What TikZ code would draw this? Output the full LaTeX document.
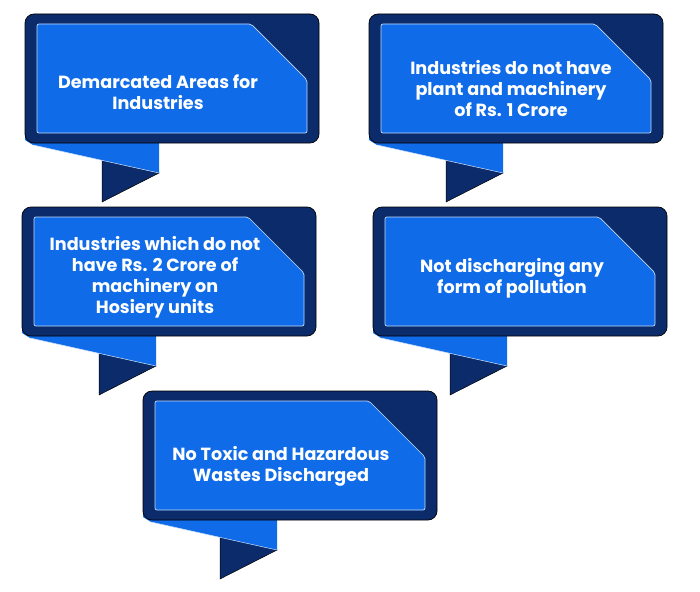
\documentclass[tikz,border=0pt]{standalone}
\usepackage{fontspec}
\setmainfont{Poppins}
\usepackage{tikz}
\usetikzlibrary{positioning}
\definecolor{navy}{HTML}{0B2B6B}
\definecolor{brand}{HTML}{0F6BE8}

\begin{document}
\begin{tikzpicture}[
  x=1pt, y=-1pt,
  every node/.style={font=\fontsize{17.6}{21}\selectfont\bfseries, text=white, align=center},
  outerbox/.style={draw=black, line width=0.7pt, fill=navy, rounded corners=9pt},
  innerbox/.style={draw=white!75!brand, line width=0.7pt, fill=brand, rounded corners=2pt},
  tailtri/.style={draw=black, line width=0.5pt, fill=navy},
]
  \useasboundingbox (0,0) rectangle (700,591);

  % ribbons and boxes
  \foreach \bx/\by in {25/14, 369/14, 22/207, 373/207, 143/391}{
    \draw[tailtri] (\bx+77,\by+140) -- (\bx+134,\by+159) -- (\bx+77,\by+188) -- cycle;
    \fill[brand] (\bx,\by+112) -- (\bx+134,\by+112) -- (\bx+134,\by+159)
      -- (\bx+8,\by+131) -- (\bx,\by+126) -- cycle;
    \draw[white!80!brand, line width=0.5pt] (\bx+8,\by+131) -- (\bx+134,\by+159);
    \draw[outerbox] (\bx,\by) rectangle (\bx+294,\by+129);
    \draw[innerbox] (\bx+12,\by+10) -- (\bx+226,\by+10) -- (\bx+282,\by+66)
      -- (\bx+282,\by+119) -- (\bx+12,\by+119) -- cycle;
  }

  % texts
  \node (areas) at (158,92) {Demarcated Areas for\\Industries};
  \node (plant) at (511,89) {Industries do not have\\plant and machinery\\of Rs. 1 Crore};
  \node (hosiery) at (155,277) {Industries which do not\\have Rs. 2 Crore of\\machinery on\\Hosiery units};
  \node (pollution) at (512,278) {Not discharging any\\form of pollution};
  \node (toxic) at (281,466) {No Toxic and Hazardous\\Wastes Discharged};
\end{tikzpicture}
\end{document}
